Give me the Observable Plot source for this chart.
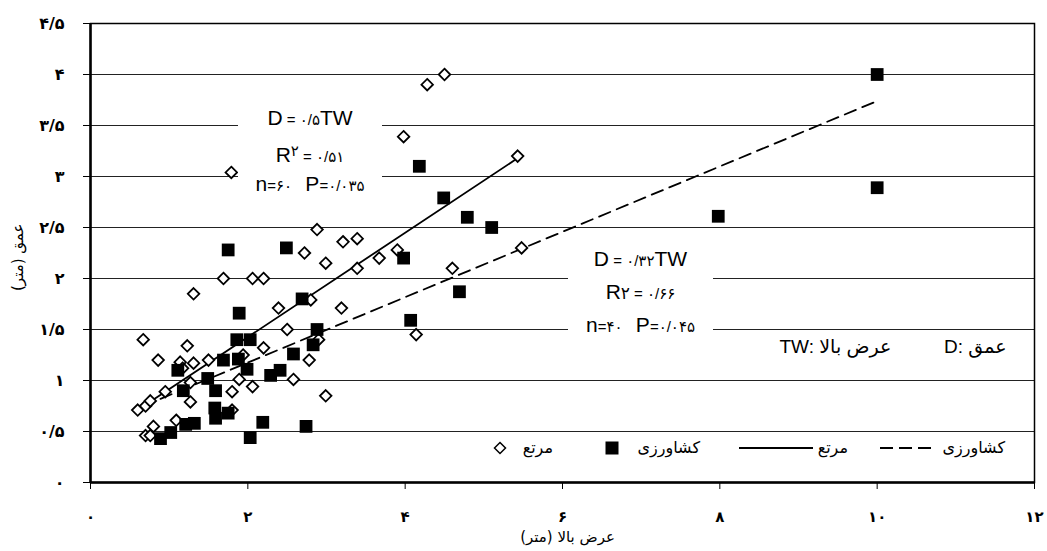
<!DOCTYPE html>
<html>
<head>
<meta charset="utf-8">
<script src="https://cdn.jsdelivr.net/npm/d3@7"></script>
<script src="https://cdn.jsdelivr.net/npm/@observablehq/plot@0.6"></script>
<style>
  html, body { margin: 0; padding: 0; background: white; }
  #wrap { position: relative; width: 1047px; height: 551px; font-family: "Liberation Sans", "DejaVu Sans", sans-serif; color: black; }
  .eqbox { position: absolute; background: white; text-align: center; white-space: nowrap; }
  .eqbox div { line-height: 33px; height: 33px; }
  .big { font-size: 21px; }
  .small { font-size: 15px; }
  .mid { font-size: 17px; }
  .leg { position: absolute; font-size: 16px; line-height: 20px; white-space: nowrap; font-family: "DejaVu Sans", sans-serif; }
</style>
</head>
<body>
<div id="wrap"></div>
<script>
// ---- data ----
// کشاورزی (agriculture) – filled squares
const farmX = [10.0, 10.0, 7.98, 4.18, 4.49, 4.79, 5.10, 3.98, 4.69, 4.07,
               1.75, 2.49, 2.69, 1.89, 1.86, 2.03, 2.88, 2.83, 2.58, 2.41,
               2.29, 1.69, 1.88, 1.99, 1.49, 1.11, 1.18, 1.59, 1.58, 1.59,
               1.75, 2.19, 2.74, 0.89, 1.02, 1.21, 1.32, 2.03];
const farmY = [4.00, 2.89, 2.61, 3.10, 2.79, 2.60, 2.50, 2.20, 1.87, 1.59,
               2.28, 2.30, 1.80, 1.66, 1.40, 1.40, 1.50, 1.35, 1.26, 1.10,
               1.05, 1.20, 1.21, 1.11, 1.02, 1.10, 0.90, 0.90, 0.73, 0.63,
               0.68, 0.59, 0.55, 0.43, 0.49, 0.57, 0.58, 0.44];
// مرتع (rangeland) – open diamonds
const rangeX = [4.50, 4.28, 3.98, 5.43, 1.79, 2.88, 3.21, 3.39, 3.90, 2.72,
                2.99, 3.67, 3.39, 4.60, 5.48, 1.69, 2.06, 2.20, 1.31, 2.39,
                2.80, 3.19, 2.50, 4.14, 2.90, 2.78, 2.58, 2.99, 1.23, 2.20,
                0.67, 0.86, 1.14, 1.31, 1.50, 1.94, 1.27, 1.89, 2.06, 1.80,
                0.95, 0.60, 0.70, 0.76, 1.27, 1.80, 1.09, 0.80, 0.70, 0.76,
                1.17];
const rangeY = [4.00, 3.90, 3.39, 3.20, 3.04, 2.48, 2.36, 2.39, 2.28, 2.25,
                2.15, 2.20, 2.10, 2.10, 2.30, 2.00, 2.00, 2.00, 1.85, 1.71,
                1.79, 1.71, 1.50, 1.45, 1.40, 1.20, 1.01, 0.85, 1.34, 1.32,
                1.40, 1.20, 1.18, 1.17, 1.20, 1.25, 0.98, 1.01, 0.94, 0.89,
                0.89, 0.71, 0.75, 0.80, 0.79, 0.71, 0.61, 0.55, 0.46, 0.46,
                1.12];
// trend lines (end points)
const rangeLineX = [0.60, 5.45];
const rangeLineY = [0.71, 3.19];
const farmLineX = [0.89, 10.0];
const farmLineY = [0.82, 3.74];
// ticks
const xTicks = [0, 2, 4, 6, 8, 10, 12];
const yTicks = [0, 0.5, 1, 1.5, 2, 2.5, 3, 3.5, 4, 4.5];
const gridY = [0.5, 1, 1.5, 2, 2.5, 3, 3.5, 4];
// texts
const xLabel = "\u200Fعرض بالا (متر)\u200F";
const yLabel = "\u200Fعمق (متر)\u200F";
const defText = "TW: عرض بالا          D: عمق";
const legendLabels = ["کشاورزی", "مرتع", "کشاورزی", "مرتع"];

const faDigits = "۰۱۲۳۴۵۶۷۸۹";
const fa = d => String(d).replace(".", "/").replace(/\d/g, c => faDigits[+c]);

const farm = farmX.map((x, i) => ({x, y: farmY[i]}));
const range = rangeX.map((x, i) => ({x, y: rangeY[i]}));
const rangeLine = rangeLineX.map((x, i) => ({x, y: rangeLineY[i]}));
const farmLine = farmLineX.map((x, i) => ({x, y: farmLineY[i]}));

const chart = Plot.plot({
  width: 1047,
  height: 551,
  marginLeft: 90,
  marginRight: 13,
  marginTop: 23,
  marginBottom: 69,
  style: {fontFamily: '"Liberation Sans", "DejaVu Sans", sans-serif', fontSize: "14px", color: "black", background: "white"},
  x: {domain: [0, 12]},
  y: {domain: [0, 4.5]},
  marks: [
    Plot.ruleY(gridY, {stroke: "#222", strokeWidth: 1}),
    Plot.frame({stroke: "black", strokeWidth: 1.5}),
    Plot.axisX({ticks: xTicks, tickFormat: fa, tickSize: 7, tickPadding: 22, label: null, fontSize: 15, fontWeight: "bold", fontFamily: "DejaVu Sans"}),
    Plot.axisY({ticks: yTicks, tickFormat: fa, tickSize: 7, tickPadding: 19, label: null, fontSize: 16, fontWeight: "bold", fontFamily: "DejaVu Sans"}),
    Plot.ruleX([0], {stroke: "black", strokeWidth: 2.5}),
    Plot.ruleY([0], {stroke: "black", strokeWidth: 2.5}),
    Plot.line(rangeLine, {x: "x", y: "y", stroke: "black", strokeWidth: 1.8}),
    Plot.line(farmLine, {x: "x", y: "y", stroke: "black", strokeWidth: 1.8, strokeDasharray: "12,7"}),
    Plot.dot(range, {x: "x", y: "y", symbol: "diamond2", r: 5.2, stroke: "black", strokeWidth: 1.8, fill: "white"}),
    Plot.dot(farm, {x: "x", y: "y", symbol: "square", r: 7.2, fill: "black", stroke: "none"}),
    Plot.text([xLabel], {frameAnchor: "bottom", dx: 5, dy: 59, fontSize: 15, fontFamily: "DejaVu Sans"}),
    Plot.text([yLabel], {frameAnchor: "left", dx: -72, dy: 38, rotate: -90, fontSize: 15, fontFamily: "DejaVu Sans"}),
    Plot.text([defText], {frameAnchor: "bottom-right", textAnchor: "end", dx: -28, dy: -130, fontSize: 19})
  ]
});

const wrap = document.getElementById("wrap");
wrap.appendChild(chart);

// equation annotations (white boxes interrupt the grid lines)
function addBox(left, top, width, height, lines) {
  const b = document.createElement("div");
  b.className = "eqbox";
  Object.assign(b.style, {left: left + "px", top: top + "px", width: width + "px", height: height + "px"});
  b.innerHTML = lines.map(l => `<div>${l}</div>`).join("");
  wrap.appendChild(b);
}
addBox(238, 101, 144, 94, [
  `<span class="big">D</span><span class="small"> = ۰/۵</span><span class="big">TW</span>`,
  `<span class="big">R</span><sup class="small">۲</sup><span class="small"> = ۰/۵۱</span>`,
  `<span class="big">n</span><span class="small">=۶۰</span>&nbsp;&nbsp;&nbsp;<span class="big">P</span><span class="small">=۰/۰۳۵</span>`
]);
addBox(568, 242, 145, 103, [
  `<span class="big">D</span><span class="small"> = ۰/۳۲</span><span class="big">TW</span>`,
  `<span class="big">R</span><span class="mid">۲</span><span class="small"> = ۰/۶۶</span>`,
  `<span class="big">n</span><span class="small">=۴۰</span>&nbsp;&nbsp;&nbsp;<span class="big">P</span><span class="small">=۰/۰۴۵</span>`
]);

// legend
function legText(txt, right) {
  const s = document.createElement("span");
  s.className = "leg";
  s.style.right = right + "px";
  s.style.top = "438px";
  s.textContent = txt;
  wrap.appendChild(s);
}
function legSvg(left, w, inner) {
  const d = document.createElement("div");
  d.style.position = "absolute";
  d.style.left = left + "px";
  d.style.top = "441px";
  d.innerHTML = `<svg width="${w}" height="14" style="display:block">${inner}</svg>`;
  wrap.appendChild(d);
}
legText(legendLabels[0], 42);
legSvg(880, 56, `<line x1="0" y1="7" x2="56" y2="7" stroke="black" stroke-width="1.8" stroke-dasharray="13,6"/>`);
legText(legendLabels[1], 199);
legSvg(739, 74, `<line x1="0" y1="7" x2="74" y2="7" stroke="black" stroke-width="1.8"/>`);
legText(legendLabels[2], 347);
legSvg(605, 14, `<rect x="0.5" y="0.5" width="13" height="13" fill="black"/>`);
legText(legendLabels[3], 494);
legSvg(493, 14, `<polygon points="7,1.5 12.5,7 7,12.5 1.5,7" fill="white" stroke="black" stroke-width="1.5"/>`);
</script>
</body>
</html>
